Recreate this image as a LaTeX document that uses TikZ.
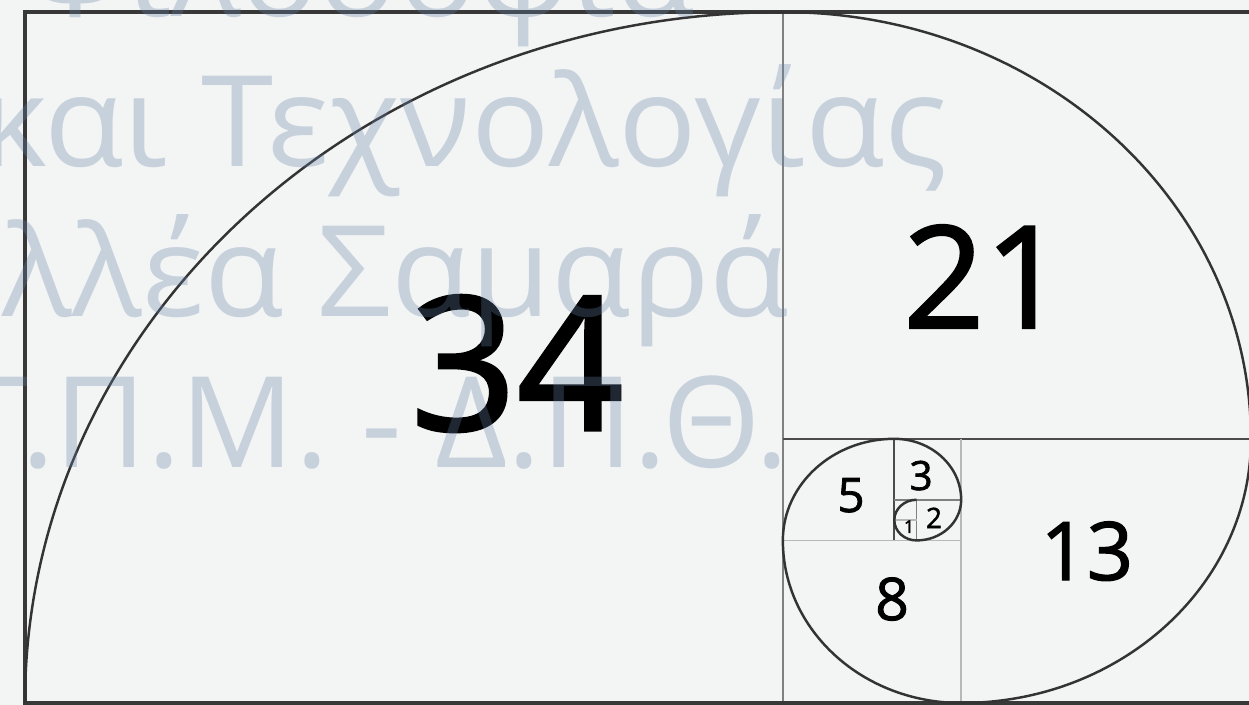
\documentclass[tikz,border=0pt]{standalone}
\usepackage{fontspec}
\setmainfont{Open Sans}
\newfontfamily\numfont[FakeBold=1.6]{Open Sans}
\newfontfamily\wmfont[FakeStretch=1.03]{Open Sans}

\definecolor{paper}{HTML}{F3F4F4}
\definecolor{frameline}{HTML}{383838}
\definecolor{spiralline}{HTML}{333333}
\definecolor{wmblue}{RGB}{100,130,167}

\begin{document}
\begin{tikzpicture}[x=0.4458cm, y=0.4064cm,
    % --- Line styles ---
    frame/.style={draw=frameline, line width=2pt},
    divider/.style={draw=black!50, line width=1pt},
    darkdivider/.style={draw=black!70, line width=1pt},
    faint/.style={draw=black!28, line width=0.8pt},
    spiral/.style={draw=spiralline, line width=1.4pt},
    % --- Text styles ---
    fib/.style={anchor=base, inner sep=0pt, text=black},
    wmtext/.style={anchor=base east, inner sep=0pt, text=wmblue, opacity=0.3,
                   font=\wmfont\fontsize{72}{72}\selectfont},
    wmnarrow/.style={wmtext, font=\fontsize{72}{72}\selectfont},
]

% === Paper and page size ===
\fill[paper] (-1.1216,-0.0984) rectangle (54.913,34.596);
\useasboundingbox (-1.1216,-0.0984) rectangle (54.913,34.596);
\clip (-1.1216,-0.0984) rectangle (54.913,34.596);

% === Square divisions ===
\draw[divider]     (34,0) -- (34,34);
\draw[darkdivider] (34,13) -- (55,13);
\draw[faint]       (42,0) -- (42,13);
\draw[faint]       (34,8) -- (42,8);
\draw[darkdivider] (39,8) -- (39,13);
\draw[divider]     (39,10) -- (42,10);
\draw[divider]     (40,8) -- (40,10);
\draw[faint]       (39,9) -- (40,9);

% === Outer frame ===
\draw[frame] (0,0) rectangle (55,34);

% === The spiral, one quarter per square ===
\draw[spiral] (0,0)
  arc[start angle=180, end angle=90,  radius=34]
  arc[start angle=90,  end angle=0,   radius=21]
  arc[start angle=0,   end angle=-90, radius=13]
  arc[start angle=270, end angle=180, radius=8]
  arc[start angle=180, end angle=90,  radius=5]
  arc[start angle=90,  end angle=0,   radius=3]
  arc[start angle=0,   end angle=-90, radius=2]
  arc[start angle=270, end angle=180, radius=1]
  arc[start angle=180, end angle=90,  radius=1];

% === Square sizes ===
\node[fib, font=\numfont\fontsize{106}{106}\selectfont] (n34) at (22.07,13.43) {34};
\node[fib, font=\numfont\fontsize{81}{81}\selectfont]   (n21) at (43.05,18.45) {21};
\node[fib, font=\numfont\fontsize{46}{46}\selectfont]   (n13) at (47.64,6.05)  {13};
\node[fib, font=\numfont\fontsize{33.5}{34}\selectfont] (n8)  at (38.90,4.08)  {8};
\node[fib, font=\numfont\fontsize{27}{27}\selectfont]   (n5)  at (37.06,9.40)  {5};
\node[fib, font=\numfont\fontsize{23}{23}\selectfont]   (n3)  at (40.20,10.48) {3};
\node[fib, font=\numfont\fontsize{16}{16}\selectfont]   (n2)  at (40.78,8.61)  {2};
\node[fib, font=\numfont\fontsize{10}{10}\selectfont]   (n1)  at (39.66,8.37)  {1};

% === Watermark over everything ===
\node[wmtext]   (wm1) at (30.06,33.76) {Φιλοσοφία};
\node[wmtext]   (wm2) at (41.41,26.38) {και Τεχνολογίας};
\node[wmtext]   (wm3) at (34.32,19.00) {λλέα Σαμαρά};
\node[wmnarrow] (wm4) at (34.30,11.61) {Τ.Π.Μ. - Δ.Π.Θ.};

\end{tikzpicture}
\end{document}
